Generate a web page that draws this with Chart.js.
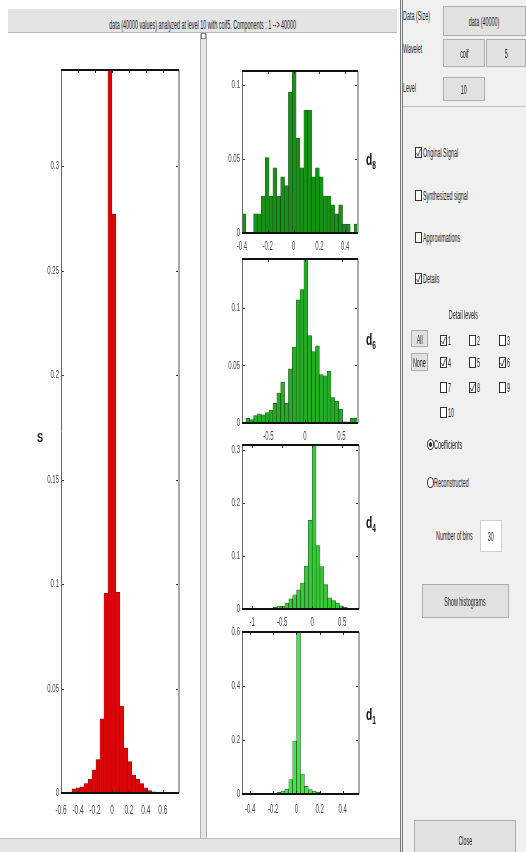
<!DOCTYPE html>
<html><head><meta charset="utf-8">
<script src="https://cdn.jsdelivr.net/npm/chart.js@4.4.1/dist/chart.umd.min.js"></script>
<style>
html,body{margin:0;padding:0;}
body{width:526px;height:852px;position:relative;overflow:hidden;background:#fff;font-family:"Liberation Sans",Arial,sans-serif;}
.a{position:absolute;}
.wrap{position:absolute;white-space:nowrap;line-height:14px;height:14px;}
.wrap span{display:inline-block;}
.btn{position:absolute;background:#e1e1e1;border:1px solid #adadad;box-sizing:border-box;}
.cb{position:absolute;width:7px;height:11px;border:1px solid #333;box-sizing:border-box;background:#fff;}
.rd{position:absolute;width:7px;height:11px;border:1px solid #333;box-sizing:border-box;border-radius:50%;background:#fff;}
canvas{position:absolute;}
</style></head><body>
<script>
// ---------------- DATA ----------------
const sCenters = [-0.4935,-0.4465,-0.3995,-0.3525,-0.3055,-0.2585,-0.2115,-0.1645,-0.1175,-0.0705,-0.0235,0.0235,0.0705,0.1175,0.1645,0.2115,0.2585,0.3055,0.3525,0.3995,0.4465,0.4935,0.5405,0.5875,0.6345,0.6815,0.7285,0.7755];
const sValues  = [0.0004,0.002,0.0025,0.003,0.0045,0.0065,0.011,0.016,0.0355,0.0955,0.346,0.277,0.096,0.0415,0.0215,0.015,0.0085,0.0065,0.0045,0.0025,0.0012,0.0006,0.0003,0.0001,0,0,0,0];
const sXTicks = [-0.6,-0.4,-0.2,0,0.2,0.4,0.6];
const sXLabels = ["-0.6","-0.4","-0.2","0","0.2","0.4","0.6"];
const sYTicks = [0,0.05,0.1,0.15,0.2,0.25,0.3];
const sYLabels = ["0","0.05","0.1","0.15","0.2","0.25","0.3"];

const d8Centers = [-0.385,-0.355,-0.325,-0.295,-0.265,-0.235,-0.205,-0.175,-0.145,-0.115,-0.085,-0.055,-0.025,0.005,0.035,0.065,0.095,0.125,0.155,0.185,0.215,0.245,0.275,0.305,0.335,0.365,0.395,0.425,0.455,0.485];
const d8Values  = [0.013,0,0,0.013,0.013,0.025,0.051,0.025,0.044,0.025,0.038,0.032,0.095,0.1095,0.064,0.044,0.083,0.083,0.038,0.044,0.038,0.025,0.025,0.019,0.013,0.019,0.006,0.006,0,0.006];
const d8XTicks = [-0.4,-0.2,0,0.2,0.4];
const d8XLabels = ["-0.4","-0.2","0","0.2","0.4"];
const d8YTicks = [0,0.05,0.1];
const d8YLabels = ["0","0.05","0.1"];

const d6Centers = [-0.8365,-0.7835,-0.7305,-0.6775,-0.6245,-0.5715,-0.5185,-0.4655,-0.4125,-0.3595,-0.3065,-0.2535,-0.2005,-0.1475,-0.0945,-0.0415,0.0115,0.0645,0.1175,0.1705,0.2235,0.2765,0.3295,0.3825,0.4355,0.4885,0.5415,0.5945,0.6475,0.7005];
const d6Values  = [0.0005,0.004,0.003,0.0065,0.008,0.007,0.009,0.011,0.017,0.026,0.0355,0.017,0.047,0.066,0.107,0.116,0.1426,0.076,0.062,0.067,0.042,0.041,0.045,0.022,0.019,0.012,0.001,0.001,0.004,0.004];
const d6XTicks = [-0.5,0,0.5];
const d6XLabels = ["-0.5","0","0.5"];
const d6YTicks = [0,0.05,0.1];
const d6YLabels = ["0","0.05","0.1"];

const d4Centers = [-1.1375,-1.0725,-1.0075,-0.9425,-0.8775,-0.8125,-0.7475,-0.6825,-0.6175,-0.5525,-0.4875,-0.4225,-0.3575,-0.2925,-0.2275,-0.1625,-0.0975,-0.0325,0.0325,0.0975,0.1625,0.2275,0.2925,0.3575,0.4225,0.4875,0.5525,0.6175,0.6825,0.7475];
const d4Values  = [0,0,0,0,0,0,0,0.001,0.003,0.005,0.005,0.011,0.019,0.027,0.036,0.049,0.081,0.1675,0.31,0.12,0.08,0.046,0.021,0.016,0.011,0.006,0.003,0.001,0,0];
const d4XTicks = [-1,-0.5,0,0.5];
const d4XLabels = ["-1","-0.5","0","0.5"];
const d4YTicks = [0,0.1,0.2,0.3];
const d4YLabels = ["0","0.1","0.2","0.3"];

const d1Centers = [-0.4532,-0.4195,-0.3858,-0.3522,-0.3185,-0.2848,-0.2512,-0.2175,-0.1838,-0.1502,-0.1165,-0.0828,-0.0492,-0.0155,0.0182,0.0518,0.0855,0.1192,0.1528,0.1865,0.2202,0.2538,0.2875,0.3212,0.3548,0.3885,0.4222,0.4558,0.4895,0.5232];
const d1Values  = [0,0,0,0,0,0,0,0,0.001,0.006,0.01,0.018,0.053,0.196,0.6,0.074,0.028,0.016,0.01,0.006,0.002,0,0,0,0,0,0,0,0,0];
const d1XTicks = [-0.4,-0.2,0,0.2,0.4];
const d1XLabels = ["-0.4","-0.2","0","0.2","0.4"];
const d1YTicks = [0,0.2,0.4,0.6];
const d1YLabels = ["0","0.2","0.4","0.6"];

const FONT = '"Liberation Sans", Arial, sans-serif';

// ---------------- frame plugin ----------------
const framePlugin = {
  id: 'frame',
  beforeDatasetsDraw(chart) {
    const {ctx, chartArea: a} = chart;
    ctx.save(); ctx.fillStyle = '#fff';
    ctx.fillRect(a.left, a.top, a.right - a.left, a.bottom - a.top);
    ctx.restore();
  },
  afterDatasetsDraw(chart, args, o) {
    const {ctx, chartArea: a, scales: {x, y}} = chart;
    ctx.save();
    const ln = (x1, y1, x2, y2) => { ctx.beginPath(); ctx.moveTo(x1, y1); ctx.lineTo(x2, y2); ctx.stroke(); };
    ctx.strokeStyle = '#333'; ctx.lineWidth = 1;
    o.xt.forEach(v => { const px = Math.round(x.getPixelForValue(v)) + 0.5; ln(px, a.top, px, a.top + 3); ln(px, a.bottom, px, a.bottom - 3); });
    o.yt.forEach(v => { const py = Math.round(y.getPixelForValue(v)) + 0.5; ln(a.left, py, a.left + 3, py); ln(a.right, py, a.right - 3, py); });
    ctx.strokeStyle = '#666'; ctx.lineWidth = 1; ln(a.left + 0.5, a.top, a.left + 0.5, a.bottom);
    ctx.strokeStyle = '#aaa'; ctx.lineWidth = 2; ln(a.right, a.top, a.right, a.bottom);
    ctx.strokeStyle = '#111'; ctx.lineWidth = 2; ln(a.left, a.top, a.right, a.top); ln(a.left, a.bottom, a.right, a.bottom);
    ctx.fillStyle = '#444';
    ctx.font = o.yfont + 'px ' + FONT; ctx.textAlign = 'right'; ctx.textBaseline = 'middle';
    o.yt.forEach((v, i) => { const py = y.getPixelForValue(v); ctx.save(); ctx.translate(a.left - 2, py); ctx.scale(0.55, 1); ctx.fillText(o.yl[i], 0, 0); ctx.restore(); });
    ctx.font = o.xfont + 'px ' + FONT; ctx.textAlign = 'center';
    o.xt.forEach((v, i) => { const px = x.getPixelForValue(v); ctx.save(); ctx.translate(px, a.bottom + o.xoff); ctx.scale(0.5, 1); ctx.fillText(o.xl[i], 0, 0); ctx.restore(); });
    ctx.restore();
  }
};

function hist(box, centers, values, xmin, xmax, ymax, color, edge, xt, xl, yt, yl, xoff, xfont) {
  const pl = 40, pt = 6, pr = 10, pb = 24;
  const c = document.createElement('canvas');
  const w = box[2] - box[0] + pl + pr, h = box[3] - box[1] + pt + pb;
  c.width = w; c.height = h;
  c.style.left = (box[0] - pl) + 'px'; c.style.top = (box[1] - pt) + 'px';
  c.style.width = w + 'px'; c.style.height = h + 'px';
  document.body.appendChild(c);
  new Chart(c, {
    type: 'bar',
    data: { datasets: [{ data: centers.map((v, i) => ({x: v, y: values[i]})), backgroundColor: color, borderColor: edge, borderWidth: 0.6, barPercentage: 1, categoryPercentage: 1 }] },
    options: {
      responsive: false, animation: false, events: [], devicePixelRatio: 1,
      layout: { padding: { left: pl, top: pt, right: pr, bottom: pb } },
      scales: {
        x: { type: 'linear', min: xmin, max: xmax, offset: false, display: false },
        y: { min: 0, max: ymax, display: false }
      },
      plugins: { legend: { display: false }, tooltip: { enabled: false },
        frame: { xt, xl, yt, yl, xoff, xfont, yfont: 11 } }
    },
    plugins: [framePlugin]
  });
}

hist([61, 70, 179, 793], sCenters, sValues, -0.6, 0.79, 0.346, '#e60000', 'rgba(70,0,0,0.85)', sXTicks, sXLabels, sYTicks, sYLabels, 17, 13);
hist([242, 71, 358, 233], d8Centers, d8Values, -0.4, 0.5, 0.1095, '#139313', 'rgba(0,40,0,0.8)', d8XTicks, d8XLabels, d8YTicks, d8YLabels, 14, 12);
hist([242, 259, 358, 423], d6Centers, d6Values, -0.863, 0.726, 0.1426, '#21ae21', 'rgba(0,40,0,0.8)', d6XTicks, d6XLabels, d6YTicks, d6YLabels, 14, 12);
hist([242, 445, 359, 609], d4Centers, d4Values, -1.17, 0.78, 0.31, '#33cc33', 'rgba(0,40,0,0.8)', d4XTicks, d4XLabels, d4YTicks, d4YLabels, 14, 12);
hist([242, 632, 359, 794], d1Centers, d1Values, -0.47, 0.54, 0.6, '#40e840', 'rgba(0,40,0,0.8)', d1XTicks, d1XLabels, d1YTicks, d1YLabels, 16, 12);

// ---------------- GUI helpers ----------------
function T(x, cy, s, o = {}) {
  const size = o.size || 12, sx = o.sx || 0.45;
  const d = document.createElement('div');
  d.className = 'wrap';
  const sp = document.createElement('span');
  sp.innerHTML = s;
  sp.style.fontSize = size + 'px';
  sp.style.color = o.color || '#222';
  if (o.bold) sp.style.fontWeight = 'bold';
  d.style.top = (cy - 7) + 'px';
  if (o.center) {
    d.style.left = (x - 400) + 'px'; d.style.width = '800px'; d.style.textAlign = 'center';
    sp.style.transform = 'scaleX(' + sx + ')'; sp.style.transformOrigin = 'center center';
  } else {
    d.style.left = x + 'px';
    sp.style.transform = 'scaleX(' + sx + ')'; sp.style.transformOrigin = 'left center';
  }
  d.appendChild(sp); document.body.appendChild(d);
  return d;
}
function box(x, y, w, h, cls, style) {
  const d = document.createElement('div');
  d.className = cls || 'a';
  d.style.left = x + 'px'; d.style.top = y + 'px'; d.style.width = w + 'px'; d.style.height = h + 'px';
  if (style) Object.assign(d.style, style);
  document.body.appendChild(d); return d;
}
function btn(x, y, w, h, s) { box(x, y, w, h, 'btn'); T(x + w / 2, y + h / 2, s, {center: true}); }
const CHECK = '<svg width="5" height="9" style="position:absolute;left:0;top:0"><polyline points="0.5,5 2,8 4.5,1" fill="none" stroke="#333" stroke-width="0.8"/></svg>';
function cb(x, cy, label, checked) {
  const d = box(x, cy - 5.5, 7, 11, 'cb');
  if (checked) d.innerHTML = CHECK;
  T(x + 8, cy, label);
}

// title bar
box(8, 9, 389, 24, 'a', {background: '#e4e4e4', borderBottom: '1px solid #b5b5b5', boxSizing: 'border-box'});
T(203, 24, 'data (40000 values) analyzed at level 10 with coif5. Components : 1 --&gt; 40000', {center: true, sx: 0.45});

// divider
box(200, 34, 7, 818, 'a', {background: '#e6e6e6', borderLeft: '1px solid #b0b0b0', borderRight: '1px solid #b0b0b0', boxSizing: 'border-box'});
box(201, 33, 5, 6, 'a', {background: '#fff', border: '1px solid #888', boxSizing: 'border-box'});
box(0, 838, 400, 14, 'a', {background: '#e4e4e4', borderTop: '1px solid #bbb', boxSizing: 'border-box'});

// axis titles
T(37, 437, 'S', {size: 13, bold: true, sx: 0.7, color: '#111'});
T(366, 160, 'd<sub style="font-size:11px">8</sub>', {size: 17, bold: true, sx: 0.6, color: '#111'});
T(366, 340, 'd<sub style="font-size:11px">6</sub>', {size: 17, bold: true, sx: 0.6, color: '#111'});
T(366, 523, 'd<sub style="font-size:11px">4</sub>', {size: 17, bold: true, sx: 0.6, color: '#111'});
T(366, 715, 'd<sub style="font-size:11px">1</sub>', {size: 17, bold: true, sx: 0.6, color: '#111'});

// right panel
box(400, 0, 126, 852, 'a', {background: '#f0f0f0', borderLeft: '3px double #777', boxSizing: 'border-box'});
box(403, 106, 123, 1, 'a', {background: '#c0c0c0'});
T(403, 15, 'Data (Size)');
btn(443, 6, 83, 30, 'data (40000)');
T(403, 48, 'Wavelet');
btn(443, 39, 42, 28, 'coif');
btn(486, 39, 40, 28, '5');
T(403, 87, 'Level');
btn(443, 77, 42, 24, '10');

cb(415, 152, 'Original Signal', true);
cb(415, 195, 'Synthesized signal', false);
cb(415, 237, 'Approximations', false);
cb(415, 278, 'Details', true);

T(463, 314, 'Detail levels', {center: true});
btn(411, 330, 17, 17, 'All');
btn(411, 353, 17, 18, 'None');
const cols = [440, 469, 499], rows = [340, 362, 387, 412];
cb(cols[0], rows[0], '1', true); cb(cols[1], rows[0], '2', false); cb(cols[2], rows[0], '3', false);
cb(cols[0], rows[1], '4', true); cb(cols[1], rows[1], '5', false); cb(cols[2], rows[1], '6', true);
cb(cols[0], rows[2], '7', false); cb(cols[1], rows[2], '8', true); cb(cols[2], rows[2], '9', false);
cb(cols[0], rows[3], '10', false);

const r1 = box(427, 439, 7, 11, 'rd');
r1.innerHTML = '<div style="position:absolute;left:1px;top:2px;width:3px;height:5px;border-radius:50%;background:#222"></div>';
T(434, 444, 'Coefficients');
box(427, 477, 7, 11, 'rd');
T(434, 482, 'Reconstructed');

T(436, 535, 'Number of bins');
box(480, 520, 22, 32, 'a', {background: '#fff', border: '1px solid #d0d0d0', boxSizing: 'border-box'});
T(491, 536, '30', {center: true});
btn(422, 584, 87, 34, 'Show histograms');
btn(414, 820, 102, 40, 'Close');
</script>
</body></html>
